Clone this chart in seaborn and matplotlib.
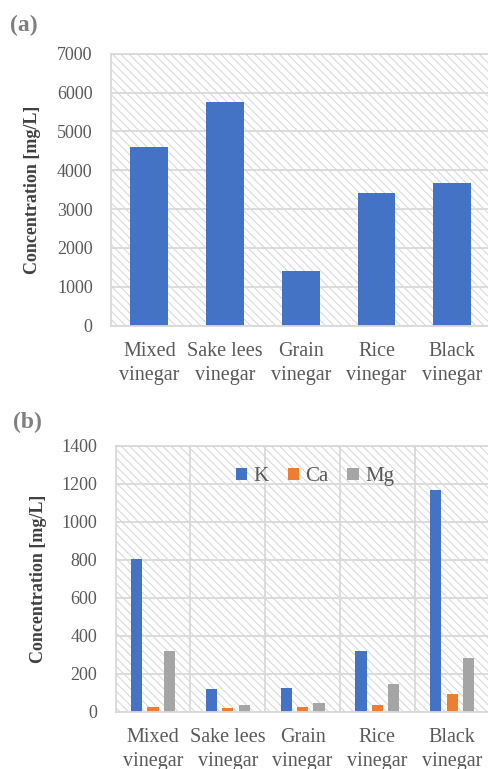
import matplotlib
matplotlib.use("Agg")
import matplotlib.pyplot as plt
import seaborn as sns
import pandas as pd
from matplotlib.patches import Rectangle

# ---- data ----
categories = ["Mixed\nvinegar", "Sake lees\nvinegar", "Grain\nvinegar", "Rice\nvinegar", "Black\nvinegar"]
total_conc = [4610, 5760, 1400, 3410, 3680]
elements = ["K", "Ca", "Mg"]
k_vals = [802, 116, 126, 318, 1164]
ca_vals = [23, 18, 23, 32, 91]
mg_vals = [316, 35, 44, 144, 281]
ticks_a = [0, 1000, 2000, 3000, 4000, 5000, 6000, 7000]
ticks_b = [0, 200, 400, 600, 800, 1000, 1200, 1400]
colors_b = ["#4472C4", "#ED7D31", "#A5A5A5"]

sns.set_theme(style="white")
plt.rcParams["font.family"] = ["Liberation Serif", "DejaVu Serif"]
plt.rcParams["hatch.color"] = "#d4d4d4"
plt.rcParams["hatch.linewidth"] = 0.7

W, H = 489, 769
fig = plt.figure(figsize=(W / 100, H / 100), dpi=100)
ax1 = fig.add_axes([111.5 / W, 1 - 325.5 / H, (490 - 111.5) / W, (325.5 - 53.7) / H])
ax2 = fig.add_axes([115.7 / W, 1 - 711.5 / H, (489.5 - 115.7) / W, (711.5 - 445.5) / H])

df_a = pd.DataFrame({"cat": categories, "val": total_conc})
sns.barplot(data=df_a, x="cat", y="val", color="#4472C4", saturation=1,
            width=0.5, errorbar=None, linewidth=0, ax=ax1)

df_b = pd.DataFrame({
    "cat": categories * 3,
    "el": [e for e in elements for _ in categories],
    "val": k_vals + ca_vals + mg_vals,
})
sns.barplot(data=df_b, x="cat", y="val", hue="el", hue_order=elements,
            palette=colors_b, saturation=1, width=0.657, gap=0.315,
            errorbar=None, linewidth=0, ax=ax2)


def style(ax, ticks):
    ax.set_xlim(-0.5, 4.5)
    ax.set_ylim(0, ticks[-1])
    ax.set_yticks(ticks)
    bg = Rectangle((0, 0), 1, 1, transform=ax.transAxes, facecolor="white",
                   edgecolor="#d4d4d4", hatch="\\\\\\\\", linewidth=0, zorder=0.1)
    ax.add_patch(bg)
    ax.set_axisbelow(True)
    ax.yaxis.grid(True, color="#d9d9d9", linewidth=1.3)
    for s in ax.spines.values():
        s.set_visible(True)
        s.set_color("#d9d9d9")
        s.set_linewidth(1.3)
    ax.tick_params(length=0, labelcolor="#595959")
    ax.tick_params(axis="y", pad=13.5, labelsize=13)
    ax.tick_params(axis="x", pad=12, labelsize=14.5)
    for lbl in ax.get_xticklabels():
        lbl.set_linespacing(1.36)
    ax.set_xlabel("")
    ax.set_ylabel("Concentration [mg/L]", fontsize=13, fontweight="bold", color="#404040")
    ax.yaxis.set_label_coords(-0.185, 0.5)


style(ax1, ticks_a)
style(ax2, ticks_b)
ax2.set_xticks([0.5, 1.5, 2.5, 3.5], minor=True)
ax2.tick_params(axis="x", which="minor", length=0)
ax2.xaxis.grid(True, which="minor", color="#d9d9d9", linewidth=1.3)

leg = ax2.legend(loc="center", bbox_to_anchor=(0.533, 0.882), ncol=3, frameon=False,
                 fontsize=15, handlelength=0.55, handleheight=0.55, handletextpad=0.3,
                 columnspacing=0.9, labelcolor="#595959")

fig.text(10 / W, 1 - 25 / H, "(a)", fontsize=17, fontweight="bold", color="#7f7f7f",
         ha="left", va="center")
fig.text(13 / W, 1 - 422 / H, "(b)", fontsize=17, fontweight="bold", color="#7f7f7f",
         ha="left", va="center")

fig.savefig("out.png", dpi=100)
